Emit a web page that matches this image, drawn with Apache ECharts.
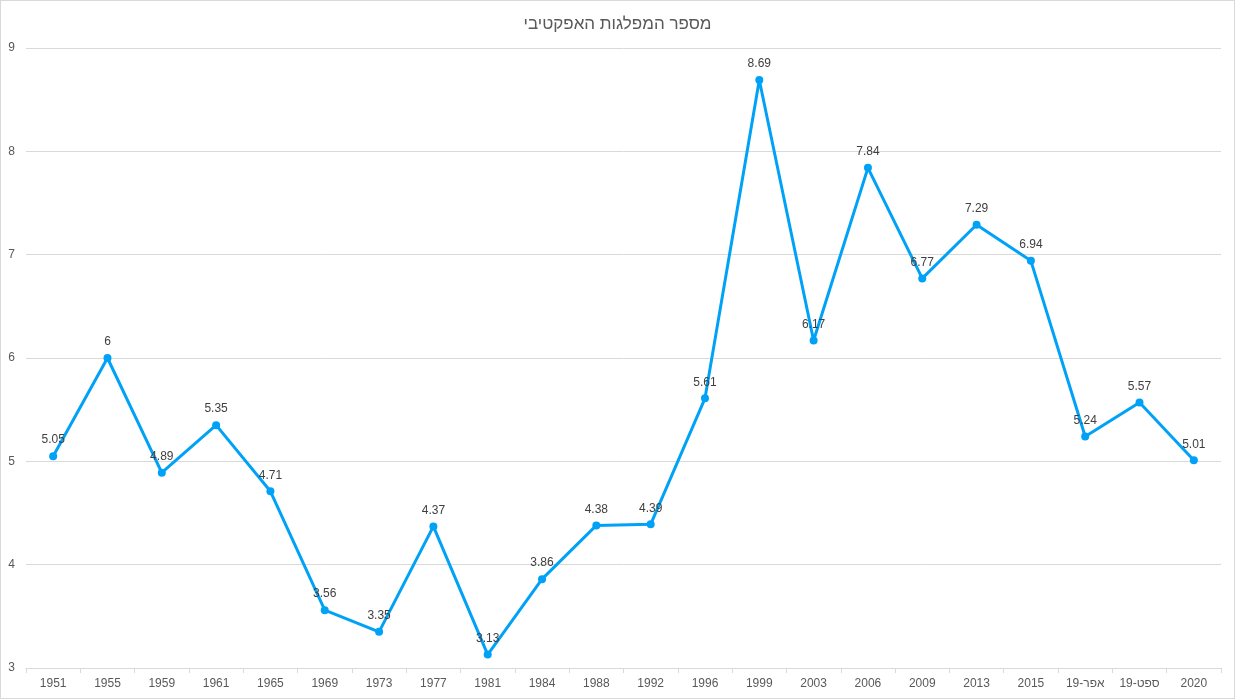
<!DOCTYPE html>
<html><head><meta charset="utf-8">
<script src="https://cdn.jsdelivr.net/npm/echarts@6/dist/echarts.min.js"></script>
<style>
html,body{margin:0;padding:0;background:#fff;}
#c{position:absolute;left:0;top:0;width:1233px;height:697px;border:1px solid #d9d9d9;}
</style></head>
<body><div id="c"></div>
<script>
const titleText = 'מספר המפלגות האפקטיבי';
const categories = ['1951','1955','1959','1961','1965','1969','1973','1977','1981','1984','1988','1992','1996','1999','2003','2006','2009','2013','2015','19-אפר','19-ספט','2020'];
const values = [5.05,6,4.89,5.35,4.71,3.56,3.35,4.37,3.13,3.86,4.38,4.39,5.61,8.69,6.17,7.84,6.77,7.29,6.94,5.24,5.57,5.01];
const yTicks = [3,4,5,6,7,8,9];

const chart = echarts.init(document.getElementById('c'), null, {renderer:'canvas'});
chart.setOption({
  animation:false,
  title:{text:titleText,left:'center',top:10,textStyle:{fontFamily:'Liberation Sans, Arial, sans-serif',fontSize:17,fontWeight:'normal',color:'#595959'}},
  grid:{left:25,right:13,top:47,bottom:30,containLabel:false},
  xAxis:{type:'category',data:categories,boundaryGap:true,
    axisLine:{lineStyle:{color:'#d9d9d9'}},
    axisTick:{show:true,length:5,lineStyle:{color:'#d9d9d9'}},
    axisLabel:{color:'#595959',fontSize:12,fontFamily:'Liberation Sans, Arial, sans-serif',margin:10,interval:0}},
  yAxis:{type:'value',min:yTicks[0],max:yTicks[yTicks.length-1],interval:1,
    axisLine:{show:false},axisTick:{show:false},
    splitLine:{lineStyle:{color:'#d9d9d9'}},
    axisLabel:{color:'#595959',fontSize:12,fontFamily:'Liberation Sans, Arial, sans-serif',margin:11}},
  series:[{type:'line',data:values,symbol:'circle',symbolSize:8,
    lineStyle:{color:'#00a2f7',width:3},itemStyle:{color:'#00a2f7'},
    label:{show:true,position:'top',distance:6,color:'#404040',fontSize:12,fontFamily:'Liberation Sans, Arial, sans-serif'}}]
});
</script></body></html>
